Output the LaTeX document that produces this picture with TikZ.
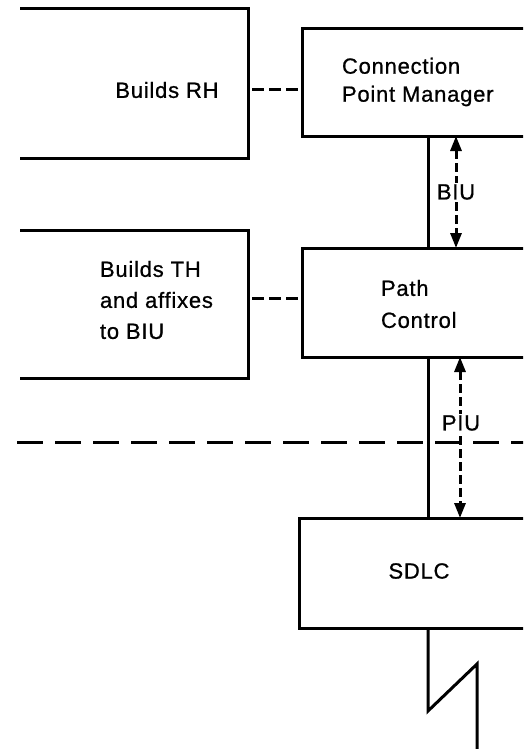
\documentclass[tikz,border=0pt]{standalone}
\usepackage{fontspec}
\setmainfont{Liberation Sans}[LetterSpace=3.5, FakeBold=0.8]
\usetikzlibrary{arrows.meta,calc}
\tikzset{
  frame/.style={draw=none, rectangle, inner sep=0pt, outer sep=0pt},
  boxline/.style={line width=3pt, line join=miter},
  txt/.style={inner sep=0pt, outer sep=0pt, font=\fontsize{22}{31}\selectfont, align=left},
  linkdash/.style={line width=3pt, dash pattern=on 12pt off 5pt, dash phase=13pt},
  sepline/.style={line width=3pt, dash pattern=on 26pt off 12pt},
  spineline/.style={line width=3pt},
  flowarrow/.style={line width=3pt, dash pattern=on 9pt off 4pt,
    {Triangle[length=15pt,width=11pt]}-{Triangle[length=15pt,width=11pt]}},
  lbl/.style={inner sep=1pt, fill=white, font=\fontsize{22}{26}\selectfont}
}
\begin{document}
\begin{tikzpicture}[x=1pt,y=-1pt]
\useasboundingbox (0,0) rectangle (523,749);
\clip (0,0) rectangle (523,749);
% frames
\node[frame, minimum width=228pt, minimum height=149pt] (rhbox) at (134,83.5) {};
\node[frame, minimum width=228pt, minimum height=148pt] (thbox) at (134,304) {};
\node[frame, minimum width=243pt, minimum height=107pt] (cpm) at (423.5,82.5) {};
\node[frame, minimum width=243pt, minimum height=109pt] (pc) at (423.5,302.5) {};
\node[frame, minimum width=246pt, minimum height=110pt] (sdlc) at (422,573) {};
% texts
\node[txt] (rhtext) at (167,90) {Builds RH};
\node[txt, anchor=west, font=\fontsize{22}{28}\selectfont] (cpmtext) at (342,82) {Connection\\Point Manager};
\node[txt, anchor=west] (thtext) at (100,300) {Builds TH\\and affixes\\to BIU};
\node[txt, anchor=west, font=\fontsize{22}{32}\selectfont] (pctext) at (381,304) {Path\\Control};
\node[txt] (sdlctext) at (419,571) {SDLC};
% box outlines
\draw[boxline] (rhbox.north west) -- (rhbox.north east) -- (rhbox.south east) -- (rhbox.south west);
\draw[boxline] (thbox.north west) -- (thbox.north east) -- (thbox.south east) -- (thbox.south west);
\draw[boxline] (cpm.north east) -- (cpm.north west) -- (cpm.south west) -- (cpm.south east);
\draw[boxline] (pc.north east) -- (pc.north west) -- (pc.south west) -- (pc.south east);
\draw[boxline] (sdlc.north east) -- (sdlc.north west) -- (sdlc.south west) -- (sdlc.south east);
% dashed links
\draw[linkdash] (rhbox.east |- rhtext) -- (cpm.west |- rhtext);
\draw[linkdash] (thbox.east |- 0,298) -- (pc.west |- 0,298);
% separator
\coordinate (sepL) at (17,442);
\coordinate (sepR) at (535,442);
\draw[sepline] (sepL) -- (sepR);
% spine
\coordinate (spine) at (428,0);
\coordinate (biux) at (456,0);
\coordinate (piux) at (460,0);
\draw[spineline] (cpm.south -| spine) -- (pc.north -| spine);
\draw[spineline] (pc.south -| spine) -- (sdlc.north -| spine);
% flows
\draw[flowarrow] (cpm.south -| biux) -- (pc.north -| biux);
\node[lbl] (biu) at (456,192) {BIU};
\draw[flowarrow] (pc.south -| piux) -- (sdlc.north -| piux);
\node[lbl] (piu) at (461,423) {PIU};
% line break symbol
\coordinate (zz1) at (428,711);
\coordinate (zz2) at (477,664);
\coordinate (zz3) at (477,760);
\draw[spineline, line join=miter] (sdlc.south -| spine) -- (zz1) -- (zz2) -- (zz3);
\end{tikzpicture}
\end{document}
